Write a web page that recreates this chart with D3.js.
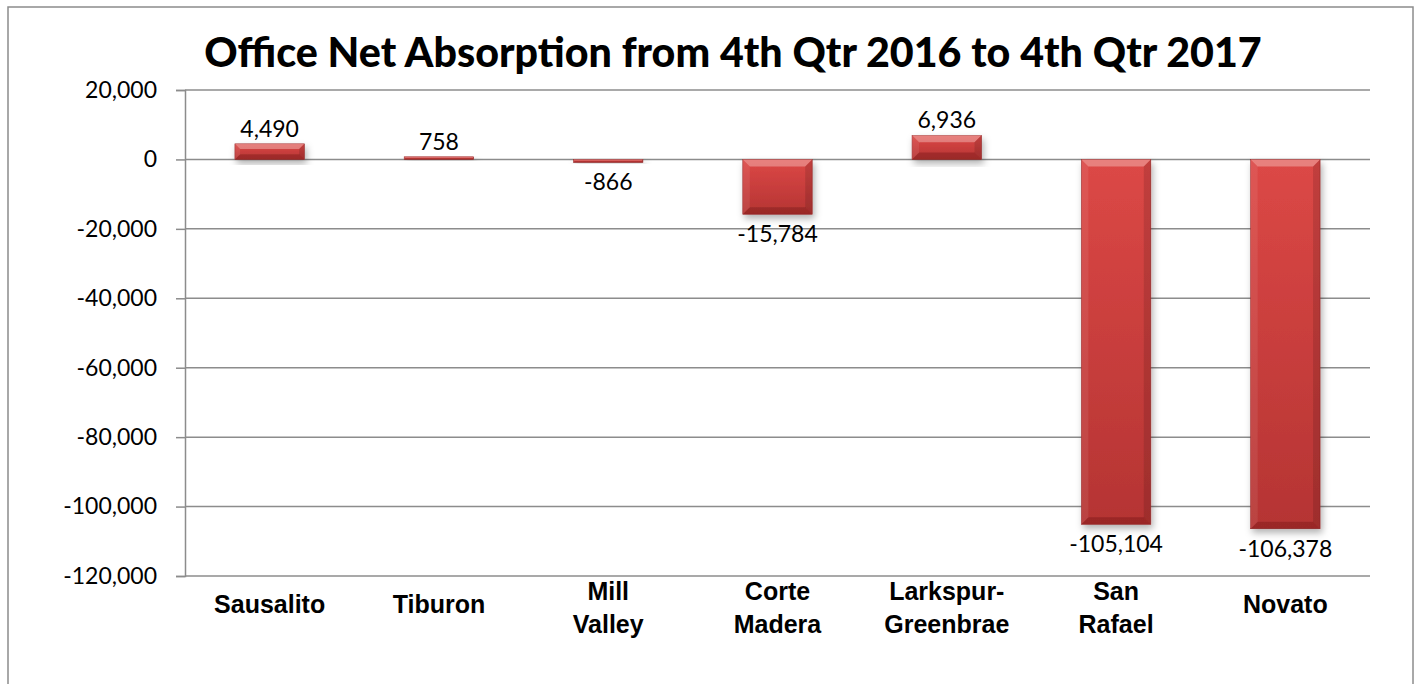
<!DOCTYPE html>
<html>
<head>
<meta charset="utf-8">
<script src="https://cdn.jsdelivr.net/npm/d3@7"></script>
<style>
  html, body { margin: 0; padding: 0; background: #fff; }
  #chart { width: 1419px; height: 684px; }
</style>
</head>
<body>
<div id="chart"></div>
<script>
const categories = [
  ["Sausalito"],
  ["Tiburon"],
  ["Mill", "Valley"],
  ["Corte", "Madera"],
  ["Larkspur-", "Greenbrae"],
  ["San", "Rafael"],
  ["Novato"]
];
const absorption = [4490, 758, -866, -15784, 6936, -105104, -106378];
const yTicks = [20000, 0, -20000, -40000, -60000, -80000, -100000, -120000];
const chartTitle = "Office Net Absorption from 4th Qtr 2016 to 4th Qtr 2017";

const container = document.getElementById("chart");
const width = 1419;
const height = 684;
const margin = { top: 90, right: 49, bottom: 108, left: 185 };

const svg = d3.select(container)
  .append("svg")
  .attr("width", width)
  .attr("height", height);

const defs = svg.append("defs");

const shadow = defs.append("filter")
  .attr("id", "barShadow")
  .attr("x", "-30%").attr("y", "-30%")
  .attr("width", "160%").attr("height", "160%");
shadow.append("feDropShadow")
  .attr("dx", 2).attr("dy", 4)
  .attr("stdDeviation", 3.5)
  .attr("flood-color", "#000")
  .attr("flood-opacity", 0.3);

const face = defs.append("linearGradient")
  .attr("id", "barFace")
  .attr("x1", 0).attr("y1", 0).attr("x2", 0).attr("y2", 1);
face.append("stop").attr("offset", "0%").attr("stop-color", "#dc4846");
face.append("stop").attr("offset", "100%").attr("stop-color", "#b53433");

// chart frame
svg.append("rect")
  .attr("x", 8).attr("y", 7)
  .attr("width", 1405).attr("height", 720)
  .attr("fill", "none")
  .attr("stroke", "#8c8c8c")
  .attr("stroke-width", 1.5);

const labels = categories.map(c => c.join(" "));

const x = d3.scaleBand()
  .domain(labels)
  .range([margin.left, width - margin.right])
  .paddingInner(0.59)
  .paddingOuter(0.295);

const y = d3.scaleLinear()
  .domain([-120000, 20000])
  .range([height - margin.bottom, margin.top]);

const fmt = d => d.toLocaleString("en-US");

// gridlines
svg.append("g")
  .selectAll("line")
  .data(yTicks)
  .join("line")
  .attr("x1", margin.left)
  .attr("x2", width - margin.right)
  .attr("y1", d => y(d))
  .attr("y2", d => y(d))
  .attr("stroke", "#8c8c8c")
  .attr("stroke-width", 1.5);

// y axis
const yAxis = svg.append("g")
  .attr("transform", `translate(${margin.left},0)`)
  .call(d3.axisLeft(y).tickValues(yTicks).tickSize(9).tickPadding(19).tickFormat(fmt));
yAxis.select(".domain").attr("stroke", "#8c8c8c").attr("stroke-width", 1.5);
yAxis.selectAll(".tick line").attr("stroke", "#8c8c8c").attr("stroke-width", 1.5);
yAxis.selectAll(".tick text")
  .attr("font-family", "Lato, 'Open Sans', sans-serif")
  .attr("font-size", "23px")
  .attr("fill", "#000");

// bars
const data = absorption.map((v, i) => ({ label: labels[i], value: v }));

const bars = svg.append("g")
  .selectAll("g")
  .data(data)
  .join("g")
  .attr("filter", "url(#barShadow)");

bars.each(function (d) {
  const g = d3.select(this);
  const x0 = x(d.label);
  const w = x.bandwidth();
  const y0 = y(Math.max(0, d.value));
  const y1 = y(Math.min(0, d.value));
  const h = Math.max(y1 - y0, 1.5);
  const b = Math.min(7, h / 3, w / 2);

  g.append("rect")
    .attr("x", x0).attr("y", y0)
    .attr("width", w).attr("height", h)
    .attr("fill", "url(#barFace)")
    .attr("stroke", "#9a2a2a")
    .attr("stroke-width", 0.6);

  const x1 = x0 + w;
  const yb = y0 + h;
  // bevel faces
  g.append("polygon")
    .attr("points", [[x0, y0], [x1, y0], [x1 - b, y0 + b], [x0 + b, y0 + b]].join(" "))
    .attr("fill", "rgba(255,235,230,0.35)");
  g.append("polygon")
    .attr("points", [[x0, y0], [x0 + b, y0 + b], [x0 + b, yb - b], [x0, yb]].join(" "))
    .attr("fill", "rgba(255,255,255,0.08)");
  g.append("polygon")
    .attr("points", [[x1, y0], [x1 - b, y0 + b], [x1 - b, yb - b], [x1, yb]].join(" "))
    .attr("fill", "rgba(0,0,0,0.12)");
  g.append("polygon")
    .attr("points", [[x0, yb], [x0 + b, yb - b], [x1 - b, yb - b], [x1, yb]].join(" "))
    .attr("fill", "rgba(60,0,0,0.22)");
});

// data labels
svg.append("g")
  .selectAll("text")
  .data(data)
  .join("text")
  .attr("x", d => x(d.label) + x.bandwidth() / 2)
  .attr("y", d => d.value >= 0 ? y(d.value) - 7 : y(d.value) + 28)
  .attr("text-anchor", "middle")
  .attr("font-family", "Lato, 'Open Sans', sans-serif")
  .attr("font-size", "23px")
  .attr("fill", "#000")
  .text(d => fmt(d.value));

// category labels
const catText = svg.append("g")
  .selectAll("text")
  .data(categories)
  .join("text")
  .attr("x", (d, i) => x(labels[i]) + x.bandwidth() / 2)
  .attr("y", d => d.length > 1 ? 600 : 613)
  .attr("text-anchor", "middle")
  .attr("font-family", "'Liberation Sans', Arial, sans-serif")
  .attr("font-weight", "700")
  .attr("font-size", "25px")
  .attr("fill", "#000");

catText.selectAll("tspan")
  .data(d => d)
  .join("tspan")
  .attr("x", function () { return d3.select(this.parentNode).attr("x"); })
  .attr("dy", (d, i) => i === 0 ? 0 : 33)
  .text(d => d);

// title
const title = svg.append("text")
  .attr("x", 733)
  .attr("y", 67)
  .attr("text-anchor", "middle")
  .attr("font-family", "Lato, 'Open Sans', sans-serif")
  .attr("font-weight", "900")
  .attr("font-size", "40px")
  .attr("fill", "#000")
  .text(chartTitle);

// fit the title to the width it takes in the original
const tw = title.node().getComputedTextLength();
title.attr("font-size", (40 * 1057 / tw).toFixed(1) + "px");
</script>
</body>
</html>
